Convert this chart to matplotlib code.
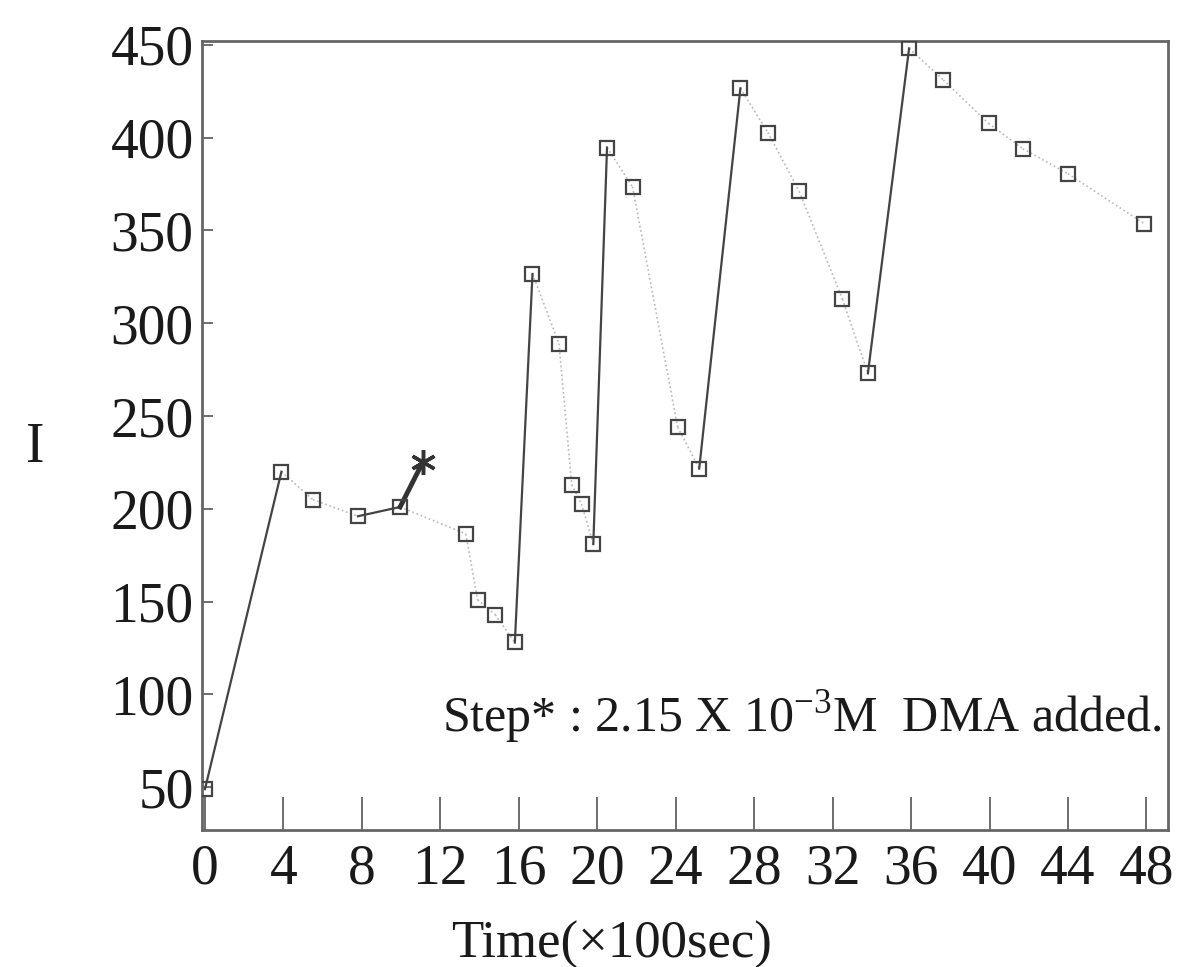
import matplotlib
matplotlib.use("Agg")
import matplotlib.pyplot as plt

# ---- data ----
time = [0, 3.9, 5.5, 7.8, 9.95, 13.3, 13.9, 14.8, 15.8, 16.7, 18.05, 18.7, 19.2, 19.8,
        20.5, 21.8, 24.1, 25.2, 27.3, 28.7, 30.3, 32.5, 33.8, 35.9, 37.65, 39.95, 41.7,
        44.0, 47.9]
intensity = [49, 220, 205, 196, 201, 186.5, 151, 143, 128, 326.5, 289, 213, 202.6, 181,
             394.6, 373.5, 244, 221.7, 426.5, 402.7, 371, 313, 273, 448, 431, 407.6, 394,
             380.5, 353.5]
jump_pairs = [(0, 1), (3, 4), (8, 9), (13, 14), (17, 18), (22, 23)]
step_from = 4
step_time = 11.1
step_I = 225
xticks = [0, 4, 8, 12, 16, 20, 24, 28, 32, 36, 40, 44, 48]
yticks = [50, 100, 150, 200, 250, 300, 350, 400, 450]

plt.rcParams['font.family'] = ['Liberation Serif', 'DejaVu Serif']

fig = plt.figure(figsize=(11.77, 9.67), dpi=100)
ax = fig.add_axes([202/1177, 1-830/967, (1168-202)/1177, (830-41)/967])

jump_set = set(jump_pairs)
for i in range(len(time) - 1):
    if (i, i + 1) in jump_set:
        continue
    ax.plot([time[i], time[i+1]], [intensity[i], intensity[i+1]], ls=':', lw=1.2,
            color='#b8b8b8', zorder=1)
for a, b in jump_pairs:
    ax.plot([time[a], time[b]], [intensity[a], intensity[b]], ls='-', lw=1.6,
            color='#444444', zorder=2)

ax.plot([time[step_from], step_time], [intensity[step_from], step_I], ls='-', lw=3.5,
        color='#333333', zorder=2)
ax.plot([step_time], [step_I], marker=(6, 2, 0), ms=18, color='#333333', mew=2.5, zorder=3)

ax.plot(time, intensity, ls='none', marker='s', ms=9.5, mfc='none', mec='#444444',
        mew=1.6, zorder=3)

ax.set_xlim(-0.15, 49.1)
ax.set_ylim(27, 452)
ax.set_xticks(xticks)
ax.set_yticks(yticks)
ax.tick_params(axis='x', direction='in', length=24, width=1.2, color='#555555',
               labelsize=40, pad=10, labelcolor='#1a1a1a')
ax.tick_params(axis='y', direction='in', length=8, width=1.2, color='#555555',
               labelsize=40, pad=6, labelcolor='#1a1a1a')
for s in ax.spines.values():
    s.set_color('#666666')
    s.set_linewidth(2)

ax.text(48.75, 80, r'Step* : 2.15 X 10$^{\mathregular{-3}}$M  DMA added.',
        ha='right', va='baseline', fontsize=36, color='#1a1a1a')

fig.text(35/1177, 1-448/967, 'I', fontsize=40, ha='center', va='center', color='#1a1a1a')
fig.text(612/1177, 1-945/967, 'Time(×100sec)', fontsize=38, ha='center', va='center',
         color='#1a1a1a')

fig.savefig('out.png', dpi=100)
